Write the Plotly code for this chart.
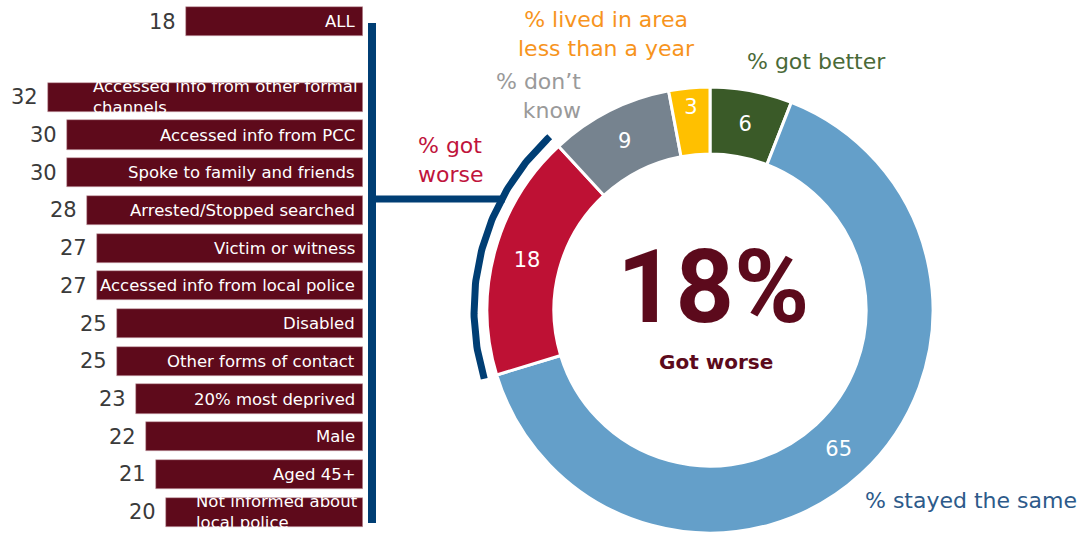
import math
import plotly.graph_objects as go

# ---- data -------------------------------------------------------------
group_labels = [
    "ALL",
    "Accessed info from other formal<br>channels",
    "Accessed info from PCC",
    "Spoke to family and friends",
    "Arrested/Stopped searched",
    "Victim or witness",
    "Accessed info from local police",
    "Disabled",
    "Other forms of contact",
    "20% most deprived",
    "Male",
    "Aged 45+",
    "Not informed about<br>local police",
]
group_worse = [18, 32, 30, 30, 28, 27, 27, 25, 25, 23, 22, 21, 20]
# row slot for each group (a blank row separates ALL from the sub-groups)
group_rows = [0, 2, 3, 4, 5, 6, 7, 8, 9, 10, 11, 12, 13]

donut_labels = ["% got better", "% stayed the same", "% got worse",
                "% don’t know", "% lived in area less than a year"]
donut_values = [6, 65, 18, 9, 3]
donut_colors = ["#3A5A28", "#649FC9", "#BE1134", "#76838F", "#FFC000"]

# ---- page geometry ----------------------------------------------------
W, H = 1091, 533
BAR_COLOR = "#5E0A1B"
NAVY = "#003E74"
FONT = "DejaVu Sans"


def px(x):
    return x / W


def py(y):
    return 1 - y / H


# donut placement (pixels)
CX, CY, R = 710, 310, 223

fig = go.Figure()

# ---- horizontal bars (growing leftwards) -------------------------------
fig.add_trace(go.Bar(
    x=group_worse,
    y=group_rows,
    orientation="h",
    width=0.77,
    marker=dict(color=BAR_COLOR, line=dict(color="#C9A3AB", width=0.6)),
    hoverinfo="skip",
    showlegend=False,
    xaxis="x", yaxis="y",
))

annotations = []
for lab, val, row in zip(group_labels, group_worse, group_rows):
    two_line = "<br>" in lab
    annotations.append(dict(
        x=0, y=row, xref="x", yref="y",
        text=lab, showarrow=False,
        xanchor="right", yanchor="middle", align="left",
        xshift=-3 if two_line else -6,
        font=dict(family=FONT, size=16.5, color="white"),
    ))
    annotations.append(dict(
        x=val, y=row, xref="x", yref="y",
        text=str(val), showarrow=False,
        xanchor="right", yanchor="middle", xshift=-8,
        font=dict(family=FONT, size=21, color="#3A3A3A"),
    ))

# ---- donut ------------------------------------------------------------
fig.add_trace(go.Pie(
    values=donut_values,
    labels=donut_labels,
    marker=dict(colors=donut_colors, line=dict(color="white", width=3)),
    hole=0.7,
    sort=False,
    direction="clockwise",
    rotation=0,
    textinfo="value",
    textposition="inside",
    insidetextorientation="horizontal",
    textfont=dict(family=FONT, size=21, color="white"),
    domain=dict(x=[px(CX - R), px(CX + R)], y=[py(CY + R), py(CY - R)]),
    hoverinfo="label+value",
    showlegend=False,
))

# ---- connector: vertical rule, stub and arc hugging the "got worse" slice
total = sum(donut_values)
start_frac = sum(donut_values[:2]) / total
end_frac = sum(donut_values[:3]) / total
R_ARC = 236
n = 80
arc_x, arc_y = [], []
for k in range(n + 1):
    th = 2 * math.pi * (start_frac + (end_frac - start_frac) * k / n)
    arc_x.append(CX + R_ARC * math.sin(th))
    arc_y.append(CY - R_ARC * math.cos(th))

STUB_Y = 199
stub_end = CX - math.sqrt(R_ARC ** 2 - (CY - STUB_Y) ** 2)
line_style = dict(color=NAVY, width=7)
fig.add_trace(go.Scatter(x=arc_x, y=arc_y, mode="lines", line=line_style,
                         hoverinfo="skip", showlegend=False,
                         xaxis="x2", yaxis="y2"))
fig.add_trace(go.Scatter(x=[372, stub_end + 3], y=[STUB_Y, STUB_Y], mode="lines",
                         line=line_style, hoverinfo="skip", showlegend=False,
                         xaxis="x2", yaxis="y2"))
fig.add_trace(go.Scatter(x=[372, 372], y=[23, 523], mode="lines",
                         line=dict(color=NAVY, width=8), hoverinfo="skip",
                         showlegend=False, xaxis="x2", yaxis="y2"))

# ---- donut captions ---------------------------------------------------
def note(x, y, text, color, size=22, xanchor="center", align="center",
         family=FONT):
    annotations.append(dict(
        x=px(x), y=py(y), xref="paper", yref="paper", text=text,
        showarrow=False, xanchor=xanchor, yanchor="middle", align=align,
        font=dict(family=family, size=size, color=color),
    ))


note(606, 34, "% lived in area<br>less than a year", "#F7941D")
note(583, 96, "% don’t<br>know", "#9A9A9A", xanchor="right", align="right")
note(416, 160, "% got<br>worse", "#C0143C", xanchor="left", align="left")
note(745, 62, "% got better", "#4A6A38", xanchor="left")
note(863, 500, "% stayed the same", "#2D5A8A", xanchor="left")
note(713, 287, "<b>18%</b>", "#5C0A1C", size=102, family="Roboto")
note(716, 362, "<b>Got worse</b>", "#5C0A1C", size=20)

hidden = dict(visible=False, showgrid=False, zeroline=False, fixedrange=True)
fig.update_layout(
    width=W, height=H,
    margin=dict(l=0, r=0, t=0, b=0),
    paper_bgcolor="white", plot_bgcolor="rgba(0,0,0,0)",
    xaxis=dict(domain=[0, px(363)], range=[36.85, 0], anchor="y", **hidden),
    yaxis=dict(domain=[py(531), py(3)], range=[13.5, -0.5], anchor="x", **hidden),
    xaxis2=dict(domain=[0, 1], range=[0, W], anchor="y2", **hidden),
    yaxis2=dict(domain=[0, 1], range=[H, 0], anchor="x2", **hidden),
    annotations=annotations,
    bargap=0,
)

fig.write_html("out.html")
